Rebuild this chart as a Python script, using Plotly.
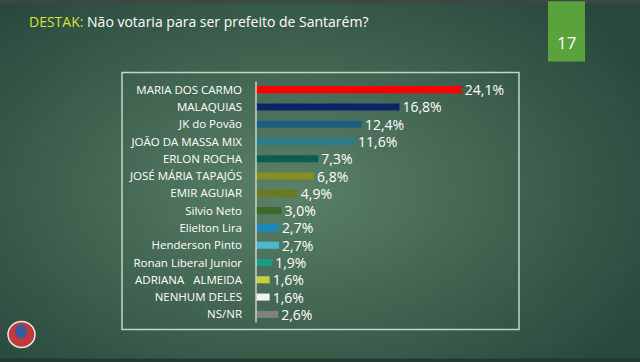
import base64, struct, zlib, math
import plotly.graph_objects as go

categories = ["MARIA DOS CARMO", "MALAQUIAS", "JK do Povão", "JOÃO DA MASSA MIX", "ERLON ROCHA",
              "JOSÉ MÁRIA TAPAJÓS", "EMIR AGUIAR", "Silvio Neto", "Elielton Lira", "Henderson Pinto",
              "Ronan Liberal Junior", "ADRIANA   ALMEIDA", "NENHUM DELES", "NS/NR"]
values = [24.1, 16.8, 12.4, 11.6, 7.3, 6.8, 4.9, 3.0, 2.7, 2.7, 1.9, 1.6, 1.6, 2.6]
bar_colors = ["#ff0000", "#0c2468", "#1b5f80", "#2a7b8c", "#0d5e4e", "#8b8c22", "#6b7a22",
              "#3a6a2a", "#1a8bc0", "#4bb8d0", "#1a9a80", "#c8d040", "#f2f2f2", "#808080"]
labels = [f"{v:.1f}".replace(".", ",") + "%" for v in values]

W, H = 640, 362
L, R, T, B = 256, 121, 81.4, 39.4
PW, PH = W - L - R, H - T - B

def px(x):
    return (x - L) / PW

def py(y):
    return 1 - (y - T) / PH

# background gradient png
def make_png(w, h):
    rows = []
    for j in range(h):
        row = bytearray([0])
        for i in range(w):
            X = i / (w - 1) * 640
            Y = j / (h - 1) * 362
            d = math.hypot((X - 290) / 420, (Y - 190) / 260)
            t = min(1.0, d)
            c0 = (92, 130, 104)
            c1 = (40, 72, 60)
            c = [int(c0[k] + (c1[k] - c0[k]) * t) for k in range(3)]
            if Y < 3:
                c = [60, 72, 68]
            if Y > 359:
                c = [34, 56, 48]
            row += bytes(c)
        rows.append(bytes(row))
    raw = b"".join(rows)
    def chunk(tag, data):
        return struct.pack(">I", len(data)) + tag + data + struct.pack(">I", zlib.crc32(tag + data) & 0xffffffff)
    png = b"\x89PNG\r\n\x1a\n" + chunk(b"IHDR", struct.pack(">IIBBBBB", w, h, 8, 2, 0, 0, 0))
    png += chunk(b"IDAT", zlib.compress(raw, 9)) + chunk(b"IEND", b"")
    return "data:image/png;base64," + base64.b64encode(png).decode()

bg = make_png(320, 181)

fig = go.Figure(go.Bar(
    y=categories, x=values, orientation="h", marker=dict(color=bar_colors, line=dict(width=0)),
    width=0.41, text=labels, textposition="outside", cliponaxis=False, constraintext="none",
    textfont=dict(color="white", size=14, family="Open Sans"),
))

fig.update_layout(
    width=W, height=H, margin=dict(l=L, r=R, t=T, b=B, pad=0),
    paper_bgcolor="#3f6552", plot_bgcolor="rgba(0,0,0,0)", showlegend=False,
    xaxis=dict(range=[0, 30.8], visible=False, fixedrange=True),
    yaxis=dict(autorange="reversed", showgrid=False, zeroline=False, showline=False,
               ticks="", ticklabelstandoff=13, fixedrange=True,
               tickfont=dict(color="white", size=11.5, family="Open Sans")),
    font=dict(family="Open Sans", color="white"),
    images=[dict(source=bg, xref="paper", yref="paper", x=px(0), y=py(0),
                 sizex=W / PW, sizey=H / PH, sizing="stretch", layer="below",
                 xanchor="left", yanchor="top")],
    shapes=[
        dict(type="rect", xref="paper", yref="paper", x0=px(122), x1=px(519), y0=py(73), y1=py(329),
             line=dict(color="#c8d2cc", width=1.5)),
        dict(type="line", xref="paper", yref="paper", x0=px(256), x1=px(256), y0=py(82), y1=py(322),
             line=dict(color="#c8d2cc", width=1.5)),
        dict(type="rect", xref="paper", yref="paper", x0=px(548), x1=px(585), y0=py(2), y1=py(62),
             fillcolor="#5aa33c", line=dict(width=0)),
        dict(type="circle", xref="paper", yref="paper", x0=px(8), x1=px(35), y0=py(321), y1=py(347),
             fillcolor="#c23a3a", line=dict(color="#e8e8e8", width=1.5)),
        dict(type="circle", xref="paper", yref="paper", x0=px(15), x1=px(27), y0=py(324), y1=py(338),
             fillcolor="#3a5aa0", line=dict(width=0)),
    ],
    annotations=[
        dict(xref="paper", yref="paper", x=px(27), y=py(22), xanchor="left", yanchor="middle",
             showarrow=False, align="left",
             text="<span style='color:#d6e23c'>DESTAK:</span> Não votaria para ser prefeito de Santarém?",
             font=dict(size=14, color="white", family="Open Sans")),
        dict(xref="paper", yref="paper", x=px(566.5), y=py(43), xanchor="center", yanchor="middle",
             showarrow=False, text="17", font=dict(size=17, color="white", family="Open Sans")),
    ],
)

fig.write_html("out.html", config={"displayModeBar": False, "staticPlot": True},
               post_script="document.body.style.margin='0';document.body.style.overflow='hidden';")
